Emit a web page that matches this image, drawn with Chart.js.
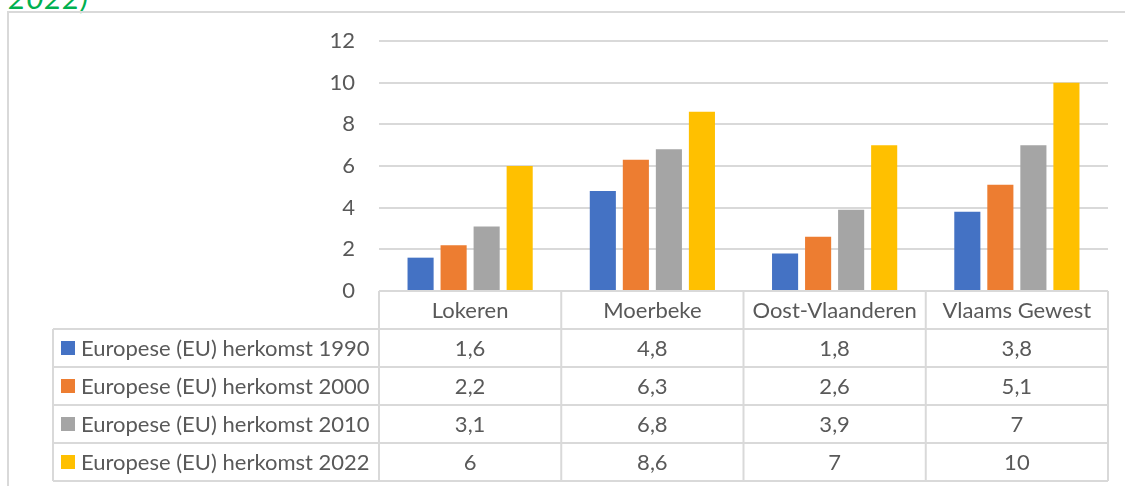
<!DOCTYPE html>
<html>
<head>
<meta charset="utf-8">
<script src="https://cdn.jsdelivr.net/npm/chart.js@4"></script>
<style>
  body { margin: 0; background: #fff; overflow: hidden; }
  #wrap { position: relative; width: 1125px; height: 486px; }
  #title { position: absolute; left: 8px; top: -18px; font: italic 31px Lato, sans-serif; color: #00B050; line-height: 31px; }
  canvas { position: absolute; left: 0; top: 0; }
</style>
</head>
<body>
<div id="wrap">
  <div id="title">2022)</div>
  <canvas id="chart" width="1125" height="486"></canvas>
</div>
<script>
// data
const categories = ['Lokeren', 'Moerbeke', 'Oost-Vlaanderen', 'Vlaams Gewest'];
const seriesNames = [
  'Europese (EU) herkomst 1990',
  'Europese (EU) herkomst 2000',
  'Europese (EU) herkomst 2010',
  'Europese (EU) herkomst 2022'
];
const values1990 = [1.6, 4.8, 1.8, 3.8];
const values2000 = [2.2, 6.3, 2.6, 5.1];
const values2010 = [3.1, 6.8, 3.9, 7];
const values2022 = [6, 8.6, 7, 10];
const yTicks = [0, 2, 4, 6, 8, 10, 12];

const colors = ['#4472C4', '#ED7D31', '#A5A5A5', '#FFC000'];
const allValues = [values1990, values2000, values2010, values2022];

const textColor = '#595959';
const lineColor = '#d9d9d9';
const font = '22px Lato, sans-serif';

// tableau de données sous le graphique
const dataTable = {
  id: 'dataTable',
  afterDraw(chart) {
    const ctx = chart.ctx;
    const x = chart.scales.x;
    const area = chart.chartArea;
    const rowH = 38;
    const top = area.bottom;
    const leftCol = 53;
    const n = categories.length;
    const edges = [];
    for (let i = 0; i < n; i++) {
      edges.push(x.getPixelForValue(i) - (x.width / n) / 2);
    }
    edges.push(area.right);

    ctx.save();
    ctx.strokeStyle = lineColor;
    ctx.lineWidth = 2;

    // cadre extérieur
    ctx.beginPath();
    ctx.moveTo(8, 490);
    ctx.lineTo(8, 12);
    ctx.lineTo(1130, 12);
    ctx.stroke();

    // lignes horizontales
    ctx.beginPath();
    ctx.moveTo(area.left, top);
    ctx.lineTo(area.right, top);
    for (let r = 1; r <= allValues.length + 1; r++) {
      const y = top + r * rowH;
      ctx.moveTo(leftCol, y);
      ctx.lineTo(area.right, y);
    }
    // lignes verticales
    ctx.moveTo(leftCol, top + rowH);
    ctx.lineTo(leftCol, top + (allValues.length + 1) * rowH);
    edges.forEach(e => {
      ctx.moveTo(e, top);
      ctx.lineTo(e, top + (allValues.length + 1) * rowH);
    });
    ctx.stroke();

    ctx.font = font;
    ctx.fillStyle = textColor;
    ctx.textBaseline = 'middle';
    ctx.textAlign = 'center';
    categories.forEach((c, i) => {
      ctx.fillText(c, x.getPixelForValue(i), top + rowH / 2 + 1);
    });

    allValues.forEach((vals, s) => {
      const cy = top + (s + 1) * rowH + rowH / 2 + 1;
      ctx.fillStyle = colors[s];
      ctx.fillRect(61, cy - 8, 14, 14);
      ctx.fillStyle = textColor;
      ctx.textAlign = 'left';
      ctx.fillText(seriesNames[s], 81, cy);
      ctx.textAlign = 'center';
      vals.forEach((v, i) => {
        ctx.fillText(String(v).replace('.', ','), x.getPixelForValue(i), cy);
      });
    });
    ctx.restore();
  }
};

new Chart(document.getElementById('chart'), {
  type: 'bar',
  data: {
    labels: categories,
    datasets: allValues.map((vals, i) => ({
      label: seriesNames[i],
      data: vals,
      backgroundColor: colors[i],
      barPercentage: 0.79,
      categoryPercentage: 0.725
    }))
  },
  options: {
    responsive: false,
    animation: false,
    devicePixelRatio: 1,
    layout: { padding: { top: 41, right: 17, bottom: 195, left: 0 } },
    plugins: {
      legend: { display: false },
      tooltip: { enabled: false }
    },
    scales: {
      x: { display: false },
      y: {
        min: 0,
        max: 12,
        afterBuildTicks: s => { s.ticks = yTicks.map(v => ({ value: v })); },
        afterFit: s => { s.width = 379; },
        border: { display: false },
        grid: { color: lineColor, lineWidth: 2, drawTicks: false },
        ticks: { color: textColor, font: { family: 'Lato, sans-serif', size: 22 }, padding: 24 }
      }
    }
  },
  plugins: [dataTable]
});
</script>
</body>
</html>
